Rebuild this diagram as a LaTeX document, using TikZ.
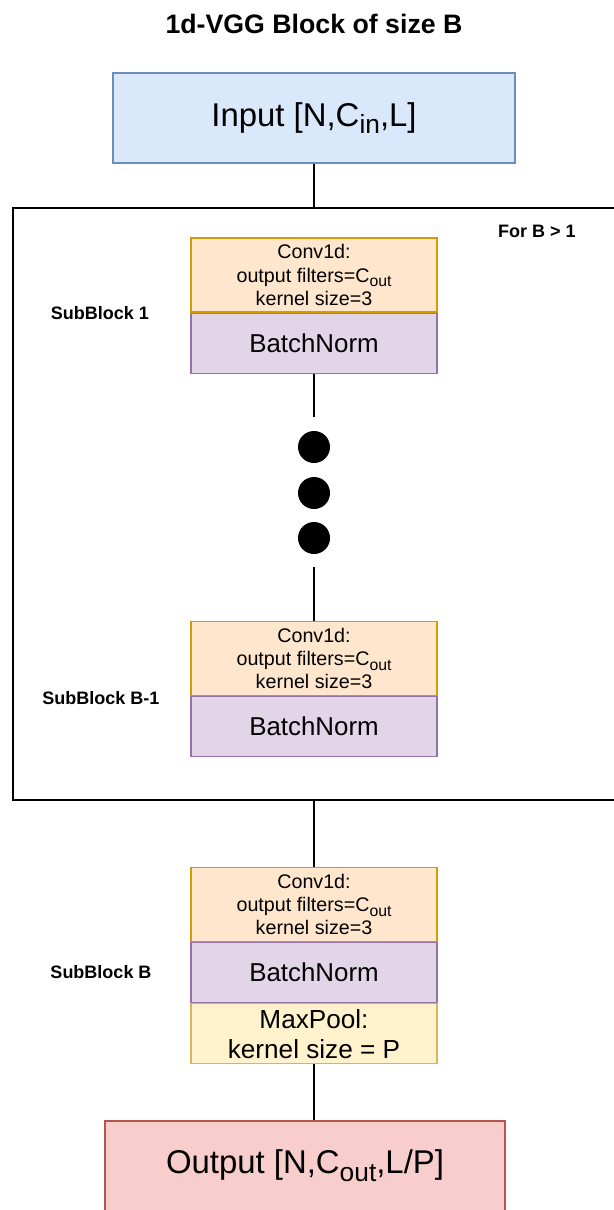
\documentclass[tikz,border=0pt]{standalone}
\usepackage{graphicx}
\usepackage{fontspec}
\setmainfont{Liberation Sans}
\usepackage{xcolor}
\usepackage{tikz}
\usetikzlibrary{positioning}

\definecolor{inFill}{HTML}{DAE8FC}
\definecolor{inLine}{HTML}{6C8EBF}
\definecolor{convFill}{HTML}{FFE6CC}
\definecolor{convLine}{HTML}{D79B00}
\definecolor{bnFill}{HTML}{E1D5E7}
\definecolor{bnLine}{HTML}{9673A6}
\definecolor{poolFill}{HTML}{FFF2CC}
\definecolor{poolLine}{HTML}{D6B656}
\definecolor{outFill}{HTML}{F8CECC}
\definecolor{outLine}{HTML}{B85450}

\tikzset{
  convbox/.style={draw=convLine, fill=convFill, line width=0.8pt, minimum width=6.15cm, minimum height=1.85cm,
    inner sep=0pt, align=center, font=\fontsize{14}{16.5}\selectfont},
  bnbox/.style={draw=bnLine, fill=bnFill, line width=0.8pt, minimum width=6.15cm, minimum height=1.5cm,
    inner sep=0pt, font=\fontsize{18.4}{22}\selectfont},
  poolbox/.style={draw=poolLine, fill=poolFill, line width=0.8pt, minimum width=6.15cm, minimum height=1.5cm,
    inner sep=0pt, align=center, font=\fontsize{18.6}{21.3}\selectfont},
  iobox/.style={line width=0.8pt, minimum width=10.05cm, minimum height=2.25cm, inner sep=0pt,
    font=\fontsize{23.4}{28}\selectfont},
  sublabel/.style={font=\bfseries\fontsize{12.8}{15}\selectfont},
  dotnode/.style={circle, fill=black, minimum size=0.8cm, inner sep=0pt},
  link/.style={line width=0.8pt}
}

\newcommand{\dsub}[1]{\raisebox{-0.45ex}{\scalebox{0.8}{#1}}}
\newcommand{\convtext}{Conv1d:\\output filters=C\dsub{out}\\kernel size=3}

\begin{document}
\begin{tikzpicture}[x=0.025cm, y=-0.025cm, node distance=0pt]
  \useasboundingbox (0,0) rectangle (613,1210);

  \node[font=\bfseries\fontsize{19}{23}\selectfont] (title) at (314,24) {1d-VGG Block of size B};

  \node[iobox, draw=inLine, fill=inFill] (input) at (314,118) {Input [N,C\dsub{in},L]};

  \node[draw, line width=0.9pt, minimum width=15.925cm, minimum height=14.8cm, inner sep=0pt] (frame) at (331.5,504) {};
  \node[sublabel] (forb) at (537,231) {For B > 1};

  \node[convbox] (conv1) at (314,275) {\convtext};
  \node[bnbox, below=of conv1] (bn1) {BatchNorm};
  \node[sublabel] (sub1) at (100,313) {SubBlock 1};

  \node[dotnode] (dot1) at (314,447) {};
  \node[dotnode] (dot2) at (314,493) {};
  \node[dotnode] (dot3) at (314,538) {};
  \coordinate (dtop) at (314,417);
  \coordinate (dbot) at (314,567);

  \node[convbox] (convA) at (314,658.5) {\convtext};
  \node[bnbox, below=of convA] (bnA) {BatchNorm};
  \node[sublabel] (subA) at (101,698) {SubBlock B-1};

  \node[convbox] (convB) at (314,904.5) {\convtext};
  \node[bnbox, below=of convB] (bnB) {BatchNorm};
  \node[poolbox, below=of bnB] (pool) {MaxPool:\\kernel size = P};
  \node[sublabel] (subB) at (101,972) {SubBlock B};

  \node[iobox, draw=outLine, fill=outFill, minimum width=10cm] (output) at (305,1166) {Output [N,C\dsub{out},L/P]};

  \draw[link] (input) -- (input.south |- frame.north);
  \draw[link] (bn1) -- (dtop);
  \draw[link] (dbot) -- (convA);
  \draw[link] (frame.south -| bnA.south) -- (convB);
  \draw[link] (pool) -- (pool.south |- output.north);
\end{tikzpicture}
\end{document}
